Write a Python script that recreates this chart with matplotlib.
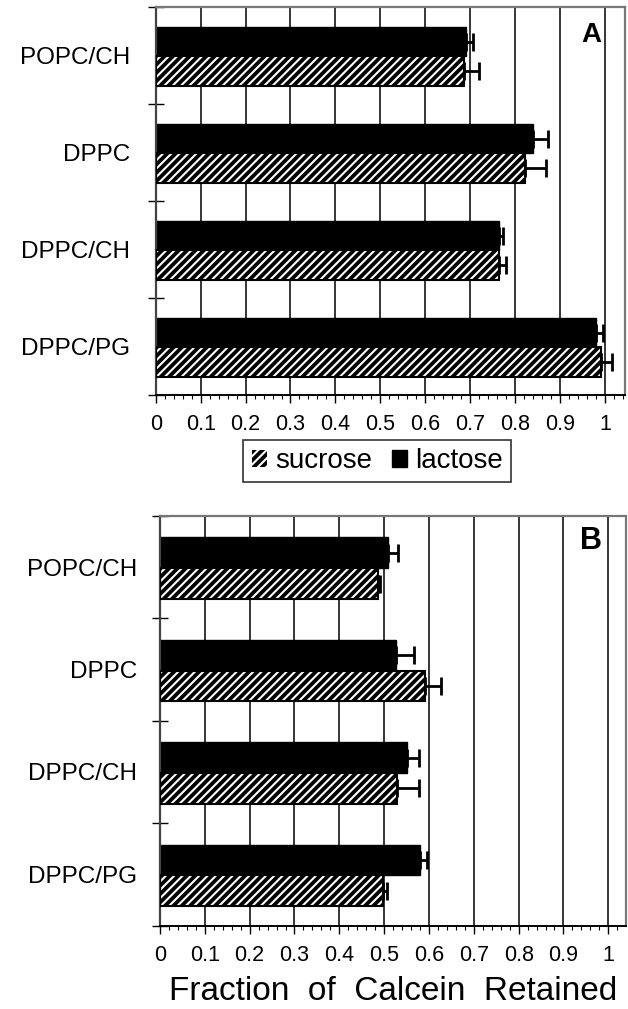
import numpy as np
import matplotlib
matplotlib.use("Agg")
import matplotlib.pyplot as plt
import matplotlib.patches as mpatches
from matplotlib.ticker import MultipleLocator, FixedLocator

plt.rcParams['font.family'] = ['Liberation Sans', 'DejaVu Sans']
plt.rcParams['hatch.linewidth'] = 1.5

categories = ["POPC/CH", "DPPC", "DPPC/CH", "DPPC/PG"]
series_names = ["sucrose", "lactose"]

# Panel A
a_lactose = [0.691, 0.839, 0.763, 0.980]
a_lactose_err = [0.016, 0.035, 0.010, 0.016]
a_sucrose = [0.686, 0.822, 0.763, 0.990]
a_sucrose_err = [0.034, 0.047, 0.017, 0.025]

# Panel B
b_lactose = [0.508, 0.526, 0.550, 0.580]
b_lactose_err = [0.022, 0.040, 0.028, 0.016]
b_sucrose = [0.486, 0.591, 0.528, 0.497]
b_sucrose_err = [0.005, 0.036, 0.050, 0.010]

xtick_values = [0, 0.1, 0.2, 0.3, 0.4, 0.5, 0.6, 0.7, 0.8, 0.9, 1.0]
xtick_labels = ["0", "0.1", "0.2", "0.3", "0.4", "0.5", "0.6", "0.7", "0.8", "0.9", "1"]

W, H = 628, 1009
fig = plt.figure(figsize=(W / 100, H / 100), dpi=100)

def panel(rect, xmax, lac, lac_err, suc, suc_err, letter, letter_pos, ypad, letter_size):
    ax = fig.add_axes(rect)
    n = len(categories)
    centers = np.arange(n) + 0.5
    bh = 0.3
    y_lac = centers - 0.14
    y_suc = centers + 0.16
    ax.set_axisbelow(True)
    ax.grid(axis='x', which='major', color='black', linewidth=1.1)
    ax.grid(axis='y', visible=False)
    # lactose: solid black
    ax.barh(y_lac, lac, height=bh, color='black', edgecolor='black', linewidth=1, zorder=2)
    # sucrose: black with white hatching, black outline
    ax.barh(y_suc, suc, height=bh, color='black', edgecolor='white', hatch='////', linewidth=0, zorder=2)
    ax.barh(y_suc, suc, height=bh, fill=False, edgecolor='black', linewidth=1.5, zorder=3)
    z = np.zeros(n)
    ax.errorbar(lac, y_lac, xerr=[z, lac_err], fmt='none', ecolor='black',
                elinewidth=2, capsize=6.5, capthick=2, zorder=4)
    ax.errorbar(suc, y_suc, xerr=[z, suc_err], fmt='none', ecolor='black',
                elinewidth=2, capsize=6.5, capthick=2, zorder=4)
    ax.set_xlim(0, xmax)
    ax.set_ylim(n, 0)
    ax.set_xticks(xtick_values)
    ax.set_xticklabels(xtick_labels, fontsize=15.5)
    ax.xaxis.set_minor_locator(MultipleLocator(0.02))
    ax.tick_params(axis='x', which='major', direction='out', length=6, width=1, pad=8)
    ax.tick_params(axis='x', which='minor', direction='out', length=3, width=0.8)
    ax.set_yticks(centers)
    ax.set_yticklabels(categories, fontsize=17.5)
    ax.yaxis.set_minor_locator(FixedLocator(np.arange(n + 1)))
    ax.tick_params(axis='y', which='major', length=0, pad=ypad)
    ax.tick_params(axis='y', which='minor', direction='inout', length=12, width=1)
    for s in ['top', 'right']:
        ax.spines[s].set_color('#777777')
        ax.spines[s].set_linewidth(1.6)
        ax.spines[s].set_linestyle((0, (2, 1)))
    ax.spines['left'].set_color('#444444')
    ax.spines['left'].set_linewidth(1.6)
    ax.spines['bottom'].set_color('black')
    ax.spines['bottom'].set_linewidth(1.4)
    ax.text(letter_pos[0], letter_pos[1], letter, transform=ax.transAxes,
            fontsize=letter_size, fontweight='bold', ha='center', va='center', zorder=5)
    return ax

axA = panel([155.7 / W, 614 / H, 469.3 / W, 388 / H], 1.0445,
            a_lactose, a_lactose_err, a_sucrose, a_sucrose_err,
            "A", (0.9286, 0.928), 18.5, 20)
axB = panel([160 / W, 83.5 / H, 466 / W, 409.5 / H], 1.0395,
            b_lactose, b_lactose_err, b_sucrose, b_sucrose_err,
            "B", (0.925, 0.939), 16.5, 22)

handles = [mpatches.Patch(facecolor='black', edgecolor='white', hatch='////', linewidth=0),
           mpatches.Patch(facecolor='black', edgecolor='black')]
leg = fig.legend(handles, series_names, loc='center', bbox_to_anchor=(377.4 / W, 1 - 461 / H),
                 ncol=2, fontsize=20, frameon=True, fancybox=False, edgecolor='black',
                 handlelength=0.55, handleheight=0.55, handletextpad=0.3, columnspacing=0.7,
                 borderpad=0.3, borderaxespad=0)
leg.get_frame().set_linewidth(1.2)

fig.text(393.5 / W, (H - 1000) / H, "Fraction  of  Calcein  Retained", fontsize=24,
         ha='center', va='baseline')

fig.savefig("out.png", dpi=100)
